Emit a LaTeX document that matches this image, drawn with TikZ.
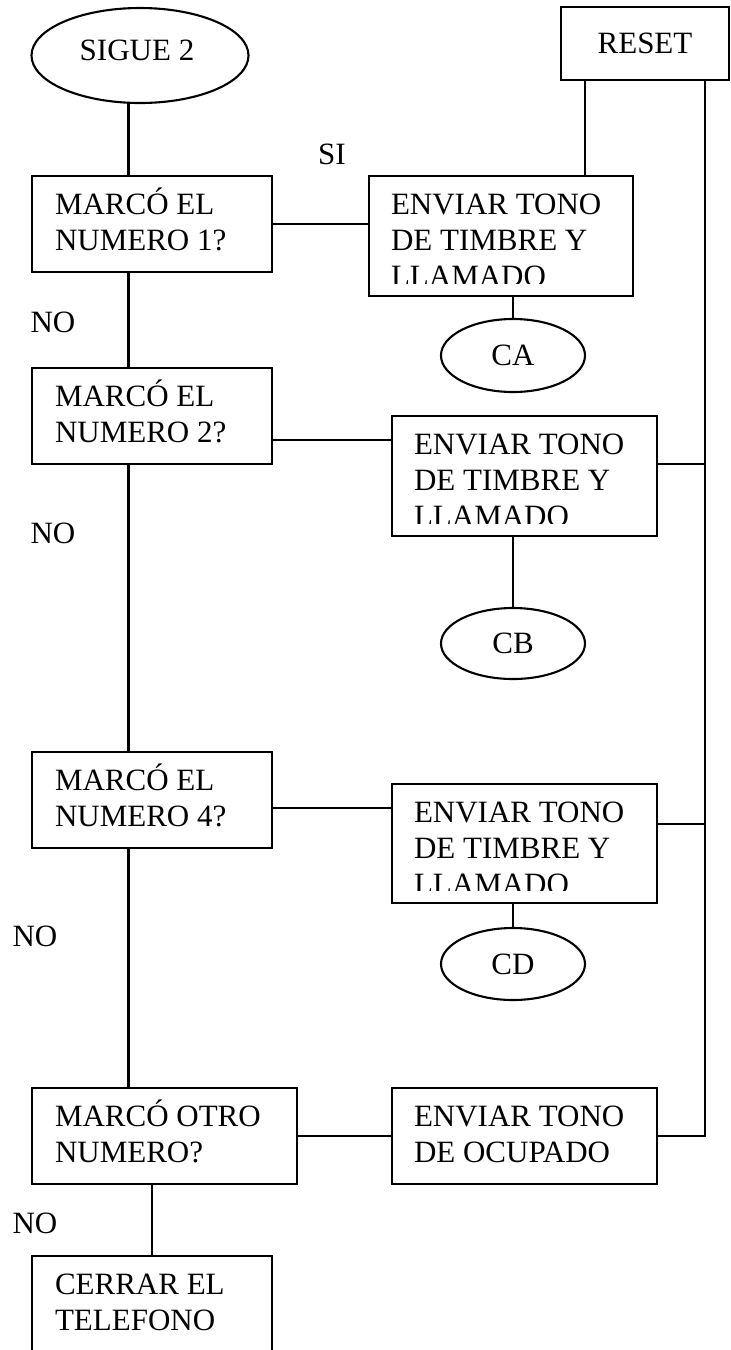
\documentclass[tikz,border=0pt]{standalone}
\usepackage{fontspec}
\setmainfont{Liberation Serif}
\usetikzlibrary{shapes.geometric}
% left-aligned block of lines whose reference point is the first baseline
\newcommand{\txtlines}[1]{\begin{tabular}[t]{@{}l@{}}#1\end{tabular}}

\begin{document}
\begin{tikzpicture}[x=1pt,y=-1pt,
  line width=2.1pt,
  every node/.style={inner sep=0pt, outer sep=0pt, font=\fontsize{31}{36}\selectfont},
  box/.style={draw, rectangle},
  oval/.style={draw, ellipse},
  lbl/.style={anchor=base west},
  tag/.style={anchor=base}]

\clip (0,0) rectangle (731,1350);
\fill[white] (0,0) rectangle (731,1350);

% guide coordinates for the vertical runs
\coordinate (spine) at (128.5,0);
\coordinate (bus) at (705,0);
\coordinate (rj) at (585,0);

% start and reset
\node[oval, minimum width=217pt, minimum height=95pt] (sigue) at (140,55.5) {};
\node[tag] (siguet) at (137,60) {SIGUE 2};
\node[box, minimum width=168pt, minimum height=73pt] (reset) at (645,43.5) {RESET};

% decision boxes
\node[box, minimum width=240pt, minimum height=96pt] (m1) at (152,224) {};
\node[lbl] (m1t) at (55,214) {\txtlines{MARCÓ EL\\NUMERO 1?}};
\node[box, minimum width=240pt, minimum height=96pt] (m2) at (152,416) {};
\node[lbl] (m2t) at (55,406) {\txtlines{MARCÓ EL\\NUMERO 2?}};
\node[box, minimum width=240pt, minimum height=96pt] (m4) at (152,800) {};
\node[lbl] (m4t) at (55,790) {\txtlines{MARCÓ EL\\NUMERO 4?}};
\node[box, minimum width=265pt, minimum height=96pt] (mo) at (164.5,1136) {};
\node[lbl] (mot) at (55,1126) {\txtlines{MARCÓ OTRO\\NUMERO?}};
\node[box, minimum width=240pt, minimum height=108pt] (cerrar) at (152,1310) {};
\node[lbl] (cerrart) at (55,1294) {\txtlines{CERRAR EL\\TELEFONO}};

% action boxes (text overflowing the box is cut off)
\node[box, minimum width=264pt, minimum height=120pt] (e1) at (501,236) {};
\begin{scope}
  \clip (e1.north west) rectangle ([yshift=13pt]e1.south east);
  \node[lbl] (e1t) at (391,214) {\txtlines{ENVIAR TONO\\DE TIMBRE Y\\LLAMADO}};
\end{scope}
\node[box, minimum width=265pt, minimum height=120pt] (e2) at (524.5,476) {};
\begin{scope}
  \clip (e2.north west) rectangle ([yshift=13pt]e2.south east);
  \node[lbl] (e2t) at (414,454) {\txtlines{ENVIAR TONO\\DE TIMBRE Y\\LLAMADO}};
\end{scope}
\node[box, minimum width=265pt, minimum height=119pt] (e4) at (524.5,843.5) {};
\begin{scope}
  \clip (e4.north west) rectangle ([yshift=13pt]e4.south east);
  \node[lbl] (e4t) at (414,822) {\txtlines{ENVIAR TONO\\DE TIMBRE Y\\LLAMADO}};
\end{scope}
\node[box, minimum width=265pt, minimum height=96pt] (eo) at (524.5,1136) {};
\node[lbl] (eot) at (414,1126) {\txtlines{ENVIAR TONO\\DE OCUPADO}};

% connectors
\node[oval, minimum width=144pt, minimum height=73pt] (ca) at (513,355.5) {CA};
\node[oval, minimum width=144pt, minimum height=71pt] (cb) at (513,643.5) {CB};
\node[oval, minimum width=144pt, minimum height=72pt] (cd) at (513,964) {CD};

% branch labels
\node[tag] (si) at (332,164) {SI};
\node[tag] (no1) at (53,332) {NO};
\node[tag] (no2) at (53,543) {NO};
\node[tag] (no3) at (35,946) {NO};
\node[tag] (no4) at (35,1233) {NO};

% main NO chain
\draw (sigue.south -| spine) -- (m1.north -| spine);
\draw (m1.south -| spine) -- (m2.north -| spine);
\draw (m2.south -| spine) -- (m4.north -| spine);
\draw (m4.south -| spine) -- (mo.north -| spine);
\draw (cerrar.north |- mo.south) -- (cerrar.north);

% decisions to actions
\coordinate (m2r) at ([yshift=-24pt]m2.east);
\coordinate (m4r) at ([yshift=-8pt]m4.east);
\draw (m1.east) -- (m1.east -| e1.west);
\draw (m2r) -- (m2r -| e2.west);
\draw (m4r) -- (m4r -| e4.west);
\draw (mo.east) -- (eo.west);

% actions to connectors
\draw (ca.north |- e1.south) -- (ca.north);
\draw (cb.north |- e2.south) -- (cb.north);
\draw (cd.north |- e4.south) -- (cd.north);

% reset lines
\draw (reset.south -| rj) -- (e1.north -| rj);
\coordinate (e2r) at ([yshift=12pt]e2.east);
\coordinate (e4r) at ([yshift=19.5pt]e4.east);
\draw (reset.south -| bus) -- (eo.east -| bus) -- (eo.east);
\draw (e2r) -- (e2r -| bus);
\draw (e4r) -- (e4r -| bus);
\end{tikzpicture}
\end{document}
